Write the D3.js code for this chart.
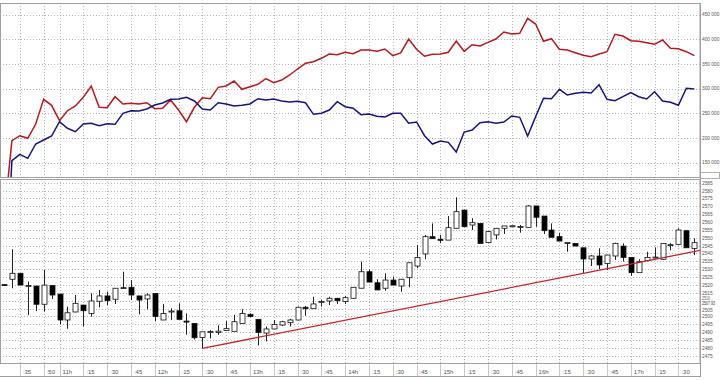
<!DOCTYPE html>
<html>
<head>
<meta charset="utf-8">
<script src="https://cdn.jsdelivr.net/npm/d3@7/dist/d3.min.js"></script>
<style>
body { margin: 0; background: #fff; }
svg { display: block; }
text { font-family: "Liberation Sans", Arial, sans-serif; }
</style>
</head>
<body>
<svg id="chart" width="720" height="380"></svg>
<script>
// 5 min bars, first one at 10:25
let firstBar = "10:25";
let barStep = 5;

let opens  = [2520.2,2523.6,2527.4,2519.0,2519.3,2507.7,2519.7,2514.2,2497.7,2502.8,2507.2,2501.9,2509.6,2513.0,2510.9,2517.9,2518.5,2513.0,2511.1,2514.6,2497.7,2503.0,2503.6,2497.0,2495.5,2486.6,2490.0,2489.8,2491.1,2490.5,
              2495.5,2501.3,2498.1,2489.4,2492.0,2494.5,2496.0,2497.7,2505.8,2504.9,2509.2,2509.8,2511.5,2509.4,2511.5,2517.9,2528.4,2521.4,2517.9,2523.1,2519.3,2524.6,2532.0,2539.7,2550.7,2549.0,2548.5,2556.0,2567.6,2558.1,
              2559.1,2546.9,2551.8,2556.0,2557.4,2557.0,2556.6,2570.2,2563.8,2554.9,2550.7,2546.8,2546.4,2543.6,2536.5,2538.4,2533.7,2538.4,2544.7,2537.5,2527.8,2535.5,2537.3,2536.3,2545.3,2545.8,2554.5,2543.2];
let highs  = [2520.5,2542.7,2527.4,2522.1,2519.5,2529.5,2519.7,2514.2,2506.2,2513.6,2507.2,2514.6,2516.8,2515.7,2518.0,2528.4,2523.1,2513.0,2514.6,2514.6,2507.9,2505.1,2508.3,2501.9,2495.5,2490.2,2491.3,2494.3,2497.0,2500.9,
              2504.5,2502.0,2498.1,2493.6,2497.7,2497.2,2498.4,2506.2,2506.6,2512.5,2510.4,2512.5,2511.5,2513.0,2518.5,2534.8,2529.9,2523.6,2527.4,2525.3,2523.6,2534.1,2545.4,2551.8,2559.1,2551.8,2563.8,2575.7,2567.6,2562.4,
              2559.1,2553.9,2556.0,2557.5,2557.7,2558.1,2570.8,2570.2,2563.8,2559.1,2553.2,2547.0,2546.4,2543.6,2539.0,2543.3,2539.0,2546.9,2546.4,2537.5,2536.3,2541.1,2543.9,2546.4,2546.6,2556.0,2554.9,2549.6];
let lows   = [2519.5,2517.9,2519.9,2500.9,2503.4,2503.0,2511.1,2494.9,2492.1,2502.6,2493.6,2499.9,2505.8,2507.2,2507.9,2517.4,2510.4,2501.3,2504.5,2496.8,2497.7,2497.7,2498.1,2488.3,2485.3,2479.7,2486.0,2488.3,2491.1,2490.5,
              2495.5,2499.6,2481.5,2484.1,2492.0,2493.9,2493.5,2497.7,2500.4,2504.9,2506.2,2507.2,2507.9,2507.9,2511.5,2517.9,2521.8,2516.8,2516.3,2519.9,2515.7,2518.5,2530.6,2536.3,2549.4,2546.5,2548.5,2556.0,2557.0,2554.9,
              2546.4,2546.4,2548.9,2552.4,2557.2,2553.2,2556.6,2557.0,2552.4,2550.3,2547.9,2541.1,2544.7,2527.4,2532.0,2529.9,2529.5,2535.9,2534.8,2525.7,2527.8,2535.0,2537.0,2536.0,2542.0,2545.8,2543.6,2539.0];
let closes = [2519.8,2527.4,2519.9,2519.6,2507.7,2519.9,2513.6,2497.7,2502.3,2508.3,2503.6,2509.8,2513.0,2510.0,2517.9,2518.3,2513.6,2510.4,2513.6,2499.9,2501.9,2503.4,2498.1,2496.8,2486.4,2490.2,2490.4,2490.6,2492.2,2496.6,
              2501.9,2499.9,2489.8,2492.0,2494.9,2496.6,2497.7,2505.8,2504.9,2507.9,2509.4,2511.5,2510.0,2511.9,2518.5,2528.4,2521.8,2516.8,2523.1,2519.9,2523.6,2534.1,2537.5,2550.7,2549.4,2548.8,2556.4,2566.6,2557.0,2559.6,
              2546.4,2553.9,2556.0,2557.5,2557.6,2557.2,2570.2,2563.0,2554.5,2550.3,2547.9,2547.0,2544.7,2536.5,2538.4,2532.7,2539.0,2546.4,2537.5,2527.8,2534.8,2537.5,2537.7,2546.4,2545.6,2554.9,2543.6,2546.9];

// upper panel, two cumulated series
let redSeries  = [34691,194200,204300,199100,228000,278100,265900,234700,255000,264500,282200,305100,261900,261100,283400,268600,270000,268600,271200,259100,259900,276700,256400,232700,261900,281400,279300,302400,305100,315200,
                  298400,303700,308500,319900,311800,317200,327400,339500,351100,354300,361200,369900,368500,373400,370500,378000,378000,375400,380100,366500,372000,400300,379500,365300,369300,369900,373400,396300,375400,388800,
                  386100,393600,400300,414500,410500,411900,442300,430700,395700,401000,379500,378000,372600,367300,364500,369900,374600,409900,406400,396900,395700,392800,389600,398300,381500,380700,374600,366500];
let blueSeries = [-150000,153700,166600,158500,187500,195600,203700,232700,219300,212400,228000,229500,224600,228700,227400,249700,255000,254400,258400,266600,270600,278100,278700,282200,274700,258400,256400,271200,268600,264500,
                  265900,268600,279300,276700,278700,274700,272600,274100,271200,247700,249700,256400,273200,263100,259900,246900,248300,243600,242200,249700,249700,229500,232100,204300,187500,193600,190900,171300,211800,215900,
                  230700,232700,229500,232100,244300,241600,203700,242800,280100,279300,298400,286800,290300,292300,290900,307700,278100,275300,283400,291500,283400,278700,293500,274700,272000,265900,300400,299000];

// support line
let trendTimes = ["12:30", "17:45"];
let trendValues = [2479.7, 2542.2];

let tickTimes  = ["10:35","10:50","11:00","11:15","11:30","11:45","12:00","12:15","12:30","12:45","13:00","13:15","13:30","13:45","14:00","14:15","14:30","14:45","15:00","15:15","15:30","15:45","16:00","16:15","16:30","16:45","17:00","17:15","17:30"];
let tickLabels = [":35",":50","11h",":15",":30",":45","12h",":15",":30",":45","13h",":15",":30",":45","14h",":15",":30",":45","15h",":15",":30",":45","16h",":15",":30",":45","17h",":15",":30"];

let topTicks = [150000,200000,250000,300000,350000,400000,450000];
let bottomTicks = d3.range(2475, 2586, 5);
let lastInfo = "34 691";
let markerValue = 2507.93;

let toMin = s => { let p = s.split(":"); return +p[0] * 60 + +p[1]; };
let t0 = toMin(firstBar);
let bars = opens.map((o, i) => ({t: t0 + i * barStep, o: o, h: highs[i], l: lows[i], c: closes[i]}));

let plotW = 700;
let x = d3.scaleLinear().domain([622.5, 1063.6]).range([0, plotW]);
let yTop = d3.scaleLinear().domain([150000, 450000]).range([162.5, 14.5]);
let yBot = d3.scaleLinear().domain([2475, 2585]).range([355.7, 182.7]);

let panelTop = {y0: 3, y1: 177};
let panelBot = {y0: 179, y1: 363};

let svg = d3.select("#chart");

let defs = svg.append("defs");
defs.append("clipPath").attr("id", "clipTop").append("rect")
  .attr("x", 0).attr("y", panelTop.y0).attr("width", plotW).attr("height", panelTop.y1 - panelTop.y0);
defs.append("clipPath").attr("id", "clipBot").append("rect")
  .attr("x", 0).attr("y", panelBot.y0).attr("width", plotW).attr("height", panelBot.y1 - panelBot.y0);

// grids
let gridColor = "#b4b4b4";
[panelTop, panelBot].forEach(p => {
  svg.append("g").selectAll("line").data(tickTimes).join("line")
    .attr("x1", d => Math.round(x(toMin(d))) + 0.5).attr("x2", d => Math.round(x(toMin(d))) + 0.5)
    .attr("y1", p.y0).attr("y2", p.y1)
    .attr("stroke", gridColor).attr("stroke-dasharray", "1,2");
});
svg.append("g").selectAll("line").data(topTicks).join("line")
  .attr("x1", 0).attr("x2", plotW)
  .attr("y1", d => Math.round(yTop(d)) + 0.5).attr("y2", d => Math.round(yTop(d)) + 0.5)
  .attr("stroke", gridColor).attr("stroke-dasharray", "1,2");
svg.append("g").selectAll("line").data(bottomTicks).join("line")
  .attr("x1", 0).attr("x2", plotW)
  .attr("y1", d => Math.round(yBot(d)) + 0.5).attr("y2", d => Math.round(yBot(d)) + 0.5)
  .attr("stroke", gridColor).attr("stroke-dasharray", "1,2");

// panel frames
[panelTop, panelBot].forEach(p => {
  svg.append("rect").attr("x", 0.5).attr("y", p.y0 + 0.5)
    .attr("width", plotW - 0.5).attr("height", p.y1 - p.y0)
    .attr("fill", "none").attr("stroke", "#a0a0a0");
});

// upper lines
let line = d3.line().x((d, i) => x(t0 + i * barStep)).y(d => yTop(d));
let lines = svg.append("g").attr("clip-path", "url(#clipTop)");
lines.append("path").datum(redSeries).attr("d", line)
  .attr("fill", "none").attr("stroke", "#b3191e").attr("stroke-width", 1.5);
lines.append("path").datum(blueSeries).attr("d", line)
  .attr("fill", "none").attr("stroke", "#14147f").attr("stroke-width", 1.5);

// candles
let cg = svg.append("g").attr("clip-path", "url(#clipBot)");
let candle = cg.selectAll("g").data(bars).join("g");
candle.append("line")
  .attr("x1", d => Math.round(x(d.t)) + 0.5).attr("x2", d => Math.round(x(d.t)) + 0.5)
  .attr("y1", d => yBot(d.h)).attr("y2", d => yBot(d.l))
  .attr("stroke", "#222");
candle.append("rect")
  .attr("x", d => Math.round(x(d.t)) - 2)
  .attr("y", d => Math.min(yBot(d.o), yBot(d.c)))
  .attr("width", 5)
  .attr("height", d => Math.max(1, Math.abs(yBot(d.o) - yBot(d.c))))
  .attr("fill", d => d.c < d.o ? "#000" : "#fff")
  .attr("stroke", "#111").attr("stroke-width", 0.8);

// trend line
cg.append("line")
  .attr("x1", x(toMin(trendTimes[0]))).attr("y1", yBot(trendValues[0]))
  .attr("x2", x(toMin(trendTimes[1]))).attr("y2", yBot(trendValues[1]))
  .attr("stroke", "#c0262b").attr("stroke-width", 1.3);

// x axis strip
let ax = svg.append("g");
ax.append("line").attr("x1", 0).attr("x2", plotW).attr("y1", 363.5).attr("y2", 363.5).attr("stroke", "#a0a0a0");
ax.append("line").attr("x1", 0).attr("x2", plotW).attr("y1", 376.5).attr("y2", 376.5).attr("stroke", "#a0a0a0");
ax.selectAll("line.sep").data(tickTimes).join("line").attr("class", "sep")
  .attr("x1", d => Math.round(x(toMin(d))) + 0.5).attr("x2", d => Math.round(x(toMin(d))) + 0.5)
  .attr("y1", 364).attr("y2", 376).attr("stroke", "#c8c8c8");
ax.selectAll("text").data(tickTimes).join("text")
  .attr("x", d => x(toMin(d)) + 3).attr("y", 373.5)
  .attr("font-size", 6).attr("fill", "#555")
  .text((d, i) => tickLabels[i]);

// right axis labels (2510 / marker / 2505 squeezed so they don't collide)
let fmtTop = v => d3.format(",")(v).replace(/,/g, " ");
let nudge = {2510: -0.2, 2505: 3};
let ra = svg.append("g").attr("transform", "translate(702,0) scale(0.8,1)");
ra.selectAll("text.t").data(topTicks).join("text").attr("class", "t")
  .attr("x", 0).attr("y", d => yTop(d) + 2)
  .attr("font-size", 6).attr("fill", "#555").text(fmtTop);
ra.selectAll("text.b").data(bottomTicks).join("text").attr("class", "b")
  .attr("x", 0).attr("y", d => yBot(d) + (d in nudge ? nudge[d] : 2))
  .attr("font-size", d => d === 2510 ? 4.5 : 6).attr("fill", "#555").text(d => d);

svg.append("rect").attr("x", 700.5).attr("y", 172.5).attr("width", 19).attr("height", 6)
  .attr("fill", "#fff").attr("stroke", "#b0b0b0");
ra.append("text").attr("x", 0).attr("y", 177.8).attr("font-size", 6).attr("fill", "#444").text(lastInfo);
ra.append("text").attr("x", 0).attr("y", yBot(markerValue) + 1.6)
  .attr("font-size", 4.5).attr("fill", "#333").text(d3.format(".2f")(markerValue).replace(".", ","));

// right frame
svg.append("line").attr("x1", 700.5).attr("x2", 700.5).attr("y1", 3).attr("y2", 377).attr("stroke", "#a0a0a0");
</script>
</body>
</html>
